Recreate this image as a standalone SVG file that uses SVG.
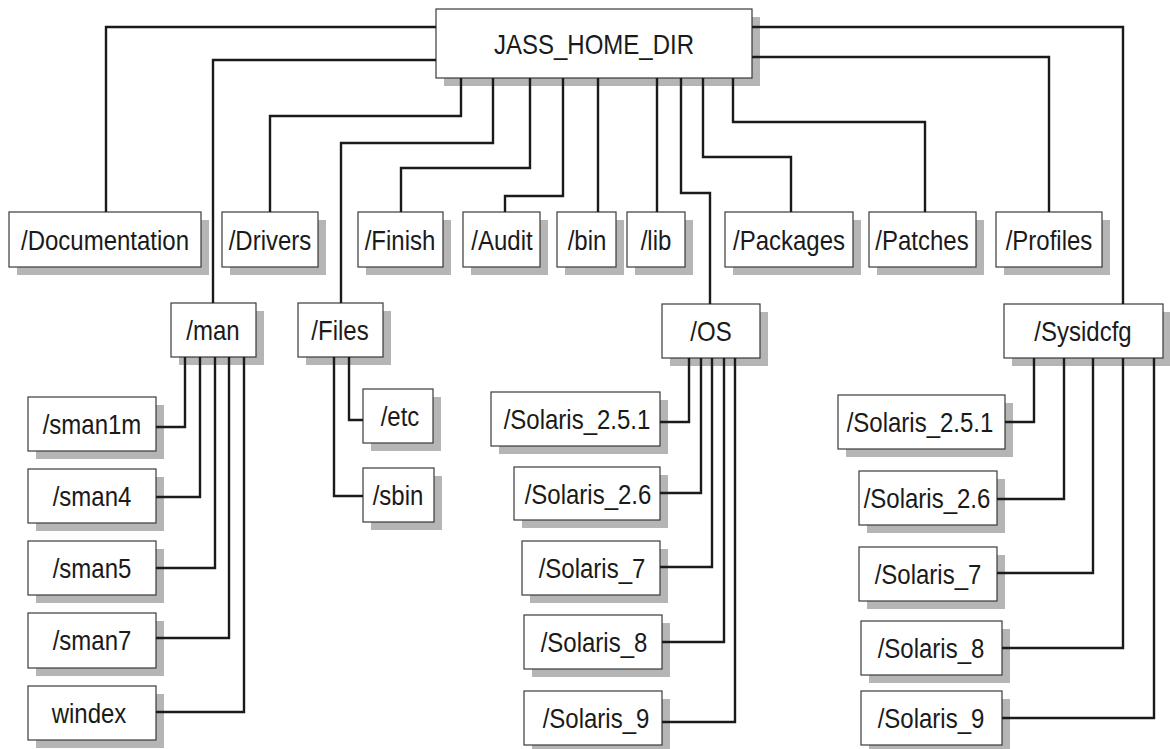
<svg xmlns="http://www.w3.org/2000/svg" width="1170" height="749" viewBox="0 0 1170 749">
<style>
.sh{fill:#b5b5b5}
.bx{fill:#fff;stroke:#3a3a3a;stroke-width:1.2}
.t{font-family:"Liberation Sans",Arial,sans-serif;font-size:24px;fill:#1a1a1a;text-anchor:middle;transform-box:fill-box;transform-origin:center;transform:scaleY(1.13)}
.c{fill:none;stroke:#1a1a1a;stroke-width:2.4}
</style>
<rect width="1170" height="749" fill="#fff"/>
<g id="nodes">
<g id="n-jass"><rect class="sh" x="444" y="17" width="316" height="69"/><rect class="bx" x="436" y="9" width="316" height="69"/><text class="t" x="594" y="53">JASS_HOME_DIR</text></g>
<g id="n-doc"><rect class="sh" x="17" y="220" width="192" height="55"/><rect class="bx" x="9" y="212" width="192" height="55"/><text class="t" x="105" y="249">/Documentation</text></g>
<g id="n-drivers"><rect class="sh" x="230" y="220" width="96" height="55"/><rect class="bx" x="222" y="212" width="96" height="55"/><text class="t" x="270" y="249">/Drivers</text></g>
<g id="n-finish"><rect class="sh" x="366" y="220" width="85" height="55"/><rect class="bx" x="358" y="212" width="85" height="55"/><text class="t" x="400" y="249">/Finish</text></g>
<g id="n-audit"><rect class="sh" x="471" y="220" width="77" height="55"/><rect class="bx" x="463" y="212" width="77" height="55"/><text class="t" x="502" y="249">/Audit</text></g>
<g id="n-bin"><rect class="sh" x="565" y="220" width="59" height="55"/><rect class="bx" x="557" y="212" width="59" height="55"/><text class="t" x="587" y="249">/bin</text></g>
<g id="n-lib"><rect class="sh" x="635" y="220" width="58" height="55"/><rect class="bx" x="627" y="212" width="58" height="55"/><text class="t" x="656" y="249">/lib</text></g>
<g id="n-packages"><rect class="sh" x="733" y="220" width="128" height="55"/><rect class="bx" x="725" y="212" width="128" height="55"/><text class="t" x="789" y="249">/Packages</text></g>
<g id="n-patches"><rect class="sh" x="877" y="220" width="107" height="55"/><rect class="bx" x="869" y="212" width="107" height="55"/><text class="t" x="922" y="249">/Patches</text></g>
<g id="n-profiles"><rect class="sh" x="1004" y="220" width="106" height="55"/><rect class="bx" x="996" y="212" width="106" height="55"/><text class="t" x="1049" y="249">/Profiles</text></g>
<g id="n-man"><rect class="sh" x="179" y="311" width="85" height="54"/><rect class="bx" x="171" y="303" width="85" height="54"/><text class="t" x="213" y="339">/man</text></g>
<g id="n-files"><rect class="sh" x="306" y="311" width="85" height="54"/><rect class="bx" x="298" y="303" width="85" height="54"/><text class="t" x="340" y="339">/Files</text></g>
<g id="n-os"><rect class="sh" x="670" y="312" width="98" height="54"/><rect class="bx" x="662" y="304" width="98" height="54"/><text class="t" x="711" y="340">/OS</text></g>
<g id="n-sysidcfg"><rect class="sh" x="1012" y="312" width="159" height="54"/><rect class="bx" x="1004" y="304" width="159" height="54"/><text class="t" x="1083" y="340">/Sysidcfg</text></g>
<g id="n-sman1m"><rect class="sh" x="36" y="405" width="128" height="54"/><rect class="bx" x="28" y="397" width="128" height="54"/><text class="t" x="92" y="433">/sman1m</text></g>
<g id="n-sman4"><rect class="sh" x="36" y="477" width="128" height="54"/><rect class="bx" x="28" y="469" width="128" height="54"/><text class="t" x="92" y="505">/sman4</text></g>
<g id="n-sman5"><rect class="sh" x="36" y="549" width="128" height="54"/><rect class="bx" x="28" y="541" width="128" height="54"/><text class="t" x="92" y="577">/sman5</text></g>
<g id="n-sman7"><rect class="sh" x="36" y="621" width="128" height="55"/><rect class="bx" x="28" y="613" width="128" height="55"/><text class="t" x="92" y="649">/sman7</text></g>
<g id="n-windex"><rect class="sh" x="36" y="694" width="128" height="54"/><rect class="bx" x="28" y="686" width="128" height="54"/><text class="t" x="89" y="722">windex</text></g>
<g id="n-etc"><rect class="sh" x="371" y="397" width="70" height="54"/><rect class="bx" x="363" y="389" width="70" height="54"/><text class="t" x="400" y="425">/etc</text></g>
<g id="n-sbin"><rect class="sh" x="371" y="476" width="71" height="54"/><rect class="bx" x="363" y="468" width="71" height="54"/><text class="t" x="398" y="504">/sbin</text></g>
<g id="n-os251"><rect class="sh" x="499" y="400" width="169" height="54"/><rect class="bx" x="491" y="392" width="169" height="54"/><text class="t" x="577" y="428">/Solaris_2.5.1</text></g>
<g id="n-os26"><rect class="sh" x="522" y="475" width="146" height="53"/><rect class="bx" x="514" y="467" width="146" height="53"/><text class="t" x="588" y="503">/Solaris_2.6</text></g>
<g id="n-os7"><rect class="sh" x="530" y="549" width="138" height="54"/><rect class="bx" x="522" y="541" width="138" height="54"/><text class="t" x="592" y="577">/Solaris_7</text></g>
<g id="n-os8"><rect class="sh" x="532" y="623" width="138" height="54"/><rect class="bx" x="524" y="615" width="138" height="54"/><text class="t" x="594" y="651">/Solaris_8</text></g>
<g id="n-os9"><rect class="sh" x="532" y="699" width="138" height="54"/><rect class="bx" x="524" y="691" width="138" height="54"/><text class="t" x="596" y="727">/Solaris_9</text></g>
<g id="n-sy251"><rect class="sh" x="846" y="403" width="167" height="54"/><rect class="bx" x="838" y="395" width="167" height="54"/><text class="t" x="920" y="431">/Solaris_2.5.1</text></g>
<g id="n-sy26"><rect class="sh" x="867" y="479" width="138" height="54"/><rect class="bx" x="859" y="471" width="138" height="54"/><text class="t" x="927" y="507">/Solaris_2.6</text></g>
<g id="n-sy7"><rect class="sh" x="867" y="555" width="138" height="54"/><rect class="bx" x="859" y="547" width="138" height="54"/><text class="t" x="928" y="583">/Solaris_7</text></g>
<g id="n-sy8"><rect class="sh" x="869" y="629" width="141" height="54"/><rect class="bx" x="861" y="621" width="141" height="54"/><text class="t" x="931" y="657">/Solaris_8</text></g>
<g id="n-sy9"><rect class="sh" x="869" y="699" width="141" height="54"/><rect class="bx" x="861" y="691" width="141" height="54"/><text class="t" x="931" y="727">/Solaris_9</text></g>
</g>
<g id="connectors" class="c">
<path class="c" d="M436,27 H106 V212"/>
<path class="c" d="M436,60 H213 V303"/>
<path class="c" d="M461,78 V116 H270 V212"/>
<path class="c" d="M493,78 V143 H341 V303"/>
<path class="c" d="M530,78 V168 H401 V212"/>
<path class="c" d="M563,78 V196 H505 V212"/>
<path class="c" d="M598,78 V212"/>
<path class="c" d="M657,78 V212"/>
<path class="c" d="M681,78 V193 H710 V304"/>
<path class="c" d="M703,78 V157 H791 V212"/>
<path class="c" d="M733,78 V122 H925 V212"/>
<path class="c" d="M752,57 H1049 V212"/>
<path class="c" d="M752,27 H1123 V304"/>
<path class="c" d="M185,357 V427 H156"/>
<path class="c" d="M200,357 V497 H156"/>
<path class="c" d="M215,357 V568 H156"/>
<path class="c" d="M229,357 V638 H156"/>
<path class="c" d="M244,357 V712 H156"/>
<path class="c" d="M349,357 V420 H363"/>
<path class="c" d="M334,357 V496 H363"/>
<path class="c" d="M689,358 V422 H660"/>
<path class="c" d="M701,358 V493 H660"/>
<path class="c" d="M712,358 V567 H660"/>
<path class="c" d="M724,358 V642 H662"/>
<path class="c" d="M735,358 V722 H662"/>
<path class="c" d="M1034,358 V422 H1005"/>
<path class="c" d="M1064,358 V499 H997"/>
<path class="c" d="M1093,358 V573 H997"/>
<path class="c" d="M1123,358 V648 H1002"/>
<path class="c" d="M1154,358 V718 H1002"/>
</g>
</svg>
